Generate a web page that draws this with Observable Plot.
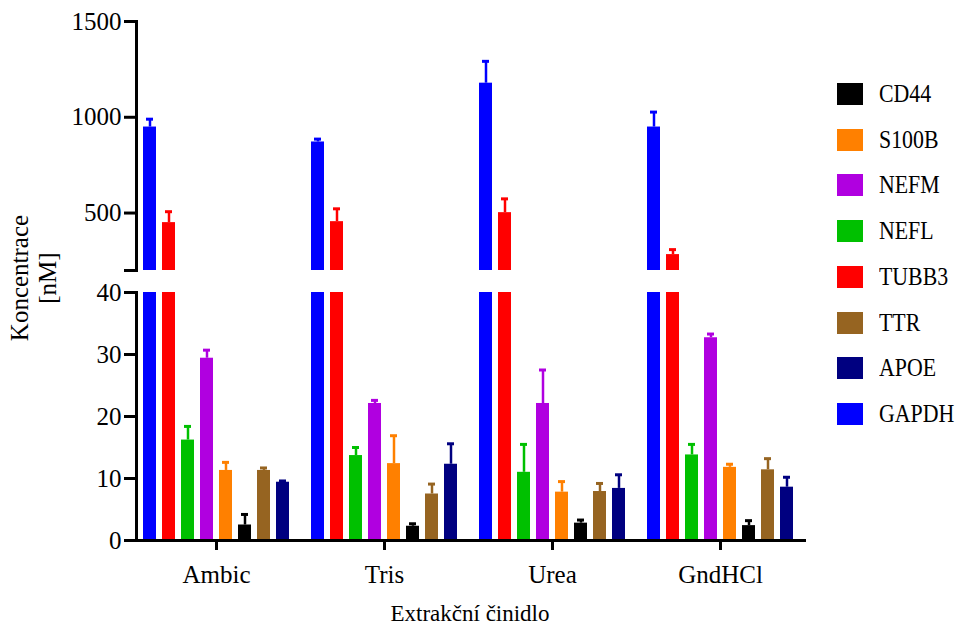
<!DOCTYPE html>
<html><head><meta charset="utf-8">
<script src="https://cdn.jsdelivr.net/npm/d3@7"></script>
<script src="https://cdn.jsdelivr.net/npm/@observablehq/plot@0.6"></script>
<style>
body{margin:0;background:#fff;}
#chart{position:relative;width:955px;height:626px;font-family:"Liberation Serif",serif;color:#000;overflow:hidden;}
#chart svg{position:absolute;left:0;}
#chart svg text{font-family:"Liberation Serif",serif;}
.lbl{position:absolute;transform:translate(-50%,-50%);white-space:nowrap;font-family:"Liberation Serif",serif;}
.leg, .leg div{font-family:"Liberation Serif",serif;}
</style></head><body><div id="chart"></div>
<script>
// ---- data ----
const categories = ["Ambic", "Tris", "Urea", "GndHCl"];
const proteins = ["GAPDH", "TUBB3", "NEFL", "NEFM", "S100B", "CD44", "TTR", "APOE"];
const legendOrder = ["CD44", "S100B", "NEFM", "NEFL", "TUBB3", "TTR", "APOE", "GAPDH"];
const colors = ["#0000ff", "#ff0000", "#00c000", "#b000e0", "#ff8000", "#000000", "#966421", "#000080"];

const GAPDH = [949, 871, 1178, 949];
const GAPDH_sd = [41, 15, 114, 78];
const TUBB3 = [450, 455, 502, 283];
const TUBB3_sd = [57, 67, 72, 26];
const NEFL = [16.2, 13.7, 11.0, 13.8];
const NEFL_sd = [2.2, 1.3, 4.5, 1.7];
const NEFM = [29.4, 22.1, 22.1, 32.7];
const NEFM_sd = [1.3, 0.5, 5.4, 0.6];
const S100B = [11.3, 12.4, 7.8, 11.8];
const S100B_sd = [1.3, 4.5, 1.7, 0.5];
const CD44 = [2.5, 2.3, 2.8, 2.4];
const CD44_sd = [1.7, 0.4, 0.5, 0.8];
const TTR = [11.3, 7.5, 7.9, 11.4];
const TTR_sd = [0.4, 1.6, 1.3, 1.8];
const APOE = [9.4, 12.3, 8.4, 8.6];
const APOE_sd = [0.2, 3.3, 2.2, 1.6];

const upperTicks = [200, 500, 1000, 1500];
const lowerTicks = [0, 10, 20, 30, 40];
const upperDomain = [200, 1500];
const lowerDomain = [0, 40];
const yLabel = ["Koncentrace", "[nM]"];
const xLabel = "Extrakční činidlo";

// ---- table ----
const series = {GAPDH, TUBB3, NEFL, NEFM, S100B, CD44, TTR, APOE};
const sds = {GAPDH: GAPDH_sd, TUBB3: TUBB3_sd, NEFL: NEFL_sd, NEFM: NEFM_sd, S100B: S100B_sd, CD44: CD44_sd, TTR: TTR_sd, APOE: APOE_sd};
const rows = [];
proteins.forEach(p => categories.forEach((c, i) => rows.push({category: c, protein: p, value: series[p][i], sd: sds[p][i]})));

const FONT = "'Liberation Serif', serif";

function panel({domain, ticks, height, marginTop, marginBottom, bottom, hideFirst}) {
  return Plot.plot({
    width: 955, height, marginLeft: 131, marginRight: 151, marginTop, marginBottom,
    style: {fontFamily: FONT, fontSize: "25px", background: "transparent", color: "#000", overflow: "visible"},
    fx: {domain: categories, padding: 0, axis: null, label: null},
    x: {domain: proteins, paddingInner: 0.33, paddingOuter: 0.5, axis: null},
    y: {domain, axis: null},
    color: {domain: proteins, range: colors},
    marks: [
      Plot.barY(rows, {fx: "category", x: "protein", y: "value", fill: "protein", clip: true}),
      Plot.ruleX(rows, {fx: "category", x: "protein", y1: "value", y2: d => d.value + d.sd, stroke: "protein", strokeWidth: 2.5, clip: true}),
      Plot.tickY(rows, {fx: "category", x: "protein", y: d => d.value + d.sd, stroke: "protein", strokeWidth: 3, insetLeft: 3, insetRight: 3, clip: true}),
      Plot.axisY({ticks, tickSize: 12, tickPadding: 3, strokeWidth: 3, label: null, fontSize: 25, dx: 4,
        tickFormat: d => (hideFirst && d === ticks[0]) ? "" : String(d)}),
      Plot.frame({anchor: "left", facet: "super", strokeWidth: 3, dx: 4}),
      bottom ? Plot.frame({anchor: "bottom", facet: "super", strokeWidth: 3}) : null,
      bottom ? Plot.axisFx({anchor: "bottom", tickSize: 10, tickPadding: 15, strokeWidth: 3, label: null, fontSize: 25}) : null
    ]
  });
}

const chart = document.getElementById("chart");
const upper = panel({domain: upperDomain, ticks: upperTicks, height: 280, marginTop: 21, marginBottom: 10, bottom: false, hideFirst: true});
upper.style.top = "0px";
chart.appendChild(upper);
const lower = panel({domain: lowerDomain, ticks: lowerTicks, height: 346, marginTop: 12, marginBottom: 86, bottom: true, hideFirst: false});
lower.style.top = "280px";
chart.appendChild(lower);

// y label
const yl = d3.select(chart).append("div").attr("class", "lbl")
  .style("left", "34px").style("top", "278px")
  .style("transform", "translate(-50%,-50%) rotate(-90deg)")
  .style("text-align", "center").style("font-size", "25px").style("line-height", "28px");
yl.selectAll("div").data(yLabel).join("div").text(d => d);

// x label
d3.select(chart).append("div").attr("class", "lbl")
  .style("left", "470px").style("top", "614px").style("font-size", "23px").text(xLabel);

// legend
const colorOf = Object.fromEntries(proteins.map((p, i) => [p, colors[i]]));
const leg = d3.select(chart).selectAll("div.leg").data(legendOrder).join("div").attr("class", "leg")
  .style("position", "absolute").style("left", "837px")
  .style("top", (d, i) => (94 + i * 45.7 - 15) + "px")
  .style("height", "30px").style("display", "flex").style("align-items", "center");
leg.append("div").style("width", "26px").style("height", "22px").style("background", d => colorOf[d]);
leg.append("div").style("margin-left", "16px").style("font-size", "26px")
  .style("font-family", "'Liberation Serif', serif")
  .style("transform", "scaleX(0.84)").style("transform-origin", "left center").text(d => d);
</script></body></html>
